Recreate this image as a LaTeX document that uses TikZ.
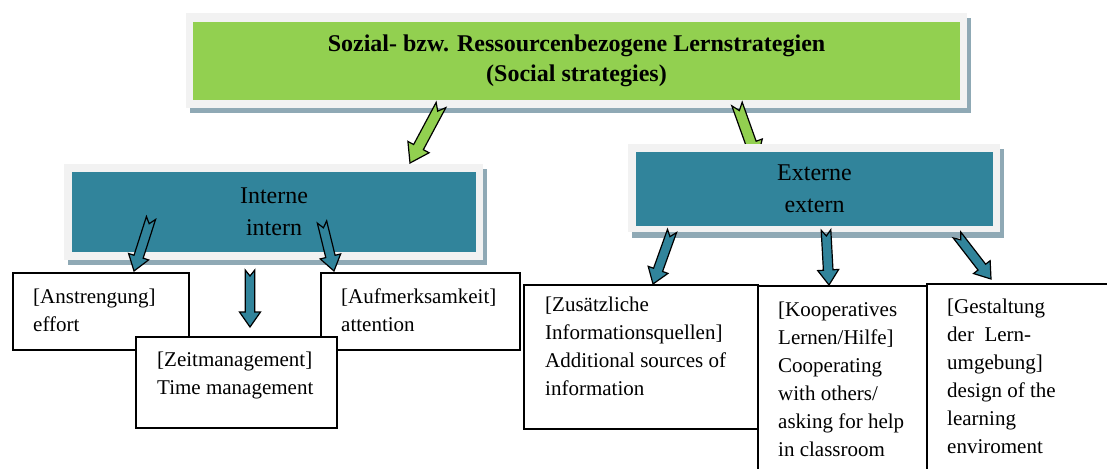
\documentclass[tikz,border=0pt]{standalone}
\usepackage{fontspec}
\setmainfont{Liberation Serif}
\usetikzlibrary{calc}

\definecolor{leafgreen}{RGB}{146,208,80}
\definecolor{petrol}{RGB}{49,132,155}
\definecolor{framegray}{RGB}{242,242,242}
\definecolor{shadowgray}{RGB}{143,169,181}

% notched block arrow: #1 style, #2 tail, #3 tip,
% #4 shaft half-width, #5 head half-width, #6 head length, #7 notch depth
\newcommand\blockarrow[7]{%
  \draw[#1] let \p1=($(#3)-(#2)$), \n1={atan2(\y1,\x1)}, \n2={veclen(\x1,\y1)} in
    ($(#2)+(\n1+90:#4pt)$)
    -- ($(#2)+(\n1:\n2-#6pt)+(\n1+90:#4pt)$)
    -- ($(#2)+(\n1:\n2-#6pt)+(\n1+90:#5pt)$)
    -- (#3)
    -- ($(#2)+(\n1:\n2-#6pt)+(\n1-90:#5pt)$)
    -- ($(#2)+(\n1:\n2-#6pt)+(\n1-90:#4pt)$)
    -- ($(#2)+(\n1-90:#4pt)$)
    -- ($(#2)+(\n1:#7pt)$)
    -- cycle;}
\newcommand\greenarrow[2]{\blockarrow{greenarr}{#1}{#2}{5.5}{12}{18}{7}}
\newcommand\petrolarrow[2]{\blockarrow{petrolarr}{#1}{#2}{4.8}{10.5}{15}{6}}

\begin{document}
\begin{tikzpicture}[x=1pt,y=-1pt,
  greenarr/.style={fill=leafgreen, draw=black, line width=1.2pt, line join=miter},
  petrolarr/.style={fill=petrol, draw=black, line width=1.2pt, line join=miter},
  panel/.style={inner sep=0pt, draw=none, align=center, text=black},
  headfont/.style={font=\bfseries\fontsize{24}{30}\selectfont},
  midfont/.style={font=\fontsize{24}{32}\selectfont},
  leaf/.style={draw=black, line width=1.5pt, fill=white, inner sep=0pt, anchor=north west},
  % multi-line text: the base anchor sits on the last line
  leaftext/.style={inner sep=0pt, anchor=base west, align=left, font=\fontsize{21}{28}\selectfont}]

\useasboundingbox (0,0) rectangle (1107,468);
\clip (0,0) rectangle (1107,468);

% top panel: shadow, light frame, green face
\fill[shadowgray] (190,18) rectangle (971,113);
\fill[framegray] (186,13) rectangle (967,108);
\node[panel, headfont, fill=leafgreen, minimum width=767pt, minimum height=78pt] (top) at (576.5,61)
  {Sozial- bzw. Ressourcenbezogene Lernstrategien\\(Social strategies)};

% arrows from the top panel
\coordinate (gl0) at (441,105);
\coordinate (gl1) at (410,163);
\coordinate (gr0) at (737,104);
\coordinate (gr1) at (757,160);
\greenarrow{gl0}{gl1}
\greenarrow{gr0}{gr1}

% panel "Interne"
\fill[shadowgray] (68,169) rectangle (487,265);
\fill[framegray] (64,164) rectangle (483,260);
\node[panel, midfont, fill=petrol, minimum width=404pt, minimum height=80pt] (intern) at (274,212)
  {Interne\\intern};

% panel "Externe"
\fill[shadowgray] (632,149) rectangle (1004,238);
\fill[framegray] (628,144) rectangle (1000,232);
\node[panel, midfont, fill=petrol, minimum width=357pt, minimum height=74pt] (extern) at (814.5,189)
  {Externe\\extern};

% strategy boxes, internal
\node[leaf, minimum width=176pt, minimum height=77pt] (anstr) at (12,272) {};
\node[leaftext] (anstrT) at (33,331) {[Anstrengung]\\effort};
\node[leaf, minimum width=199pt, minimum height=77pt] (aufm) at (320,272) {};
\node[leaftext] (aufmT) at (341,331) {[Aufmerksamkeit]\\attention};
\node[leaf, minimum width=201pt, minimum height=91pt] (zeit) at (135,336) {};
\node[leaftext] (zeitT) at (157,394) {[Zeitmanagement]\\Time management};

% strategy boxes, external
\node[leaf, minimum width=234pt, minimum height=144pt] (zusatz) at (523,284) {};
\node[leaftext] (zusatzT) at (545,395)
  {[Zusätzliche\\Informationsquellen]\\Additional sources of\\information};
\node[leaf, minimum width=169pt, minimum height=200pt] (koop) at (757,285) {};
\node[leaftext] (koopT) at (778,456)
  {[Kooperatives\\Lernen/Hilfe]\\Cooperating\\with others/\\asking for help\\in classroom};
\node[leaf, minimum width=200pt, minimum height=200pt] (gestalt) at (926,283) {};
\node[leaftext] (gestaltT) at (947,453)
  {[Gestaltung\\der\ \ Lern-\\umgebung]\\design of the\\learning\\enviroment};

% arrows from "Interne"
\coordinate (il0) at (151,218);
\coordinate (il1) at (134,271);
\coordinate (im0) at (250,270);
\coordinate (im1) at (250,327);
\coordinate (ir0) at (322,222);
\coordinate (ir1) at (334,271);
\petrolarrow{il0}{il1}
\petrolarrow{im0}{im1}
\petrolarrow{ir0}{ir1}

% arrows from "Externe"
\coordinate (el0) at (672,231);
\coordinate (el1) at (653,284);
\coordinate (em0) at (826,230);
\coordinate (em1) at (829,285);
\coordinate (er0) at (957,235);
\coordinate (er1) at (991,279);
\petrolarrow{el0}{el1}
\petrolarrow{em0}{em1}
\petrolarrow{er0}{er1}
\end{tikzpicture}
\end{document}
